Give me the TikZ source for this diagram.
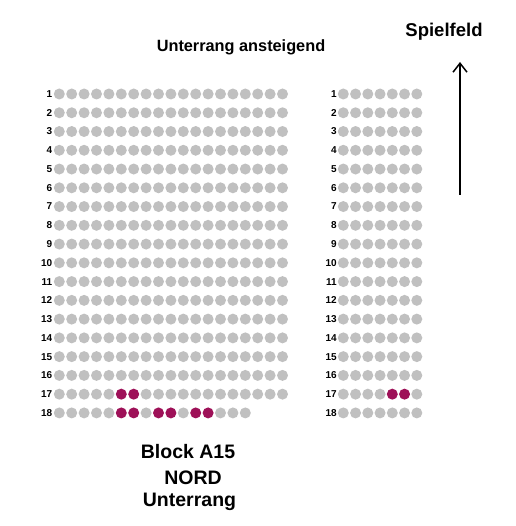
\documentclass[tikz,border=0pt]{standalone}
\usepackage{fontspec}
\setmainfont{Liberation Sans}
\usetikzlibrary{arrows.meta, positioning}
\usepackage{xcolor}
\definecolor{seatgray}{RGB}{192,192,192}
\definecolor{seatred}{RGB}{158,17,88}

\begin{document}
\begin{tikzpicture}[x=1pt, y=-1pt,
  seat/.style={circle, fill=seatgray, inner sep=0pt, minimum size=11pt},
  taken/.style={seat, fill=seatred},
  rownum/.style={anchor=east, inner sep=0pt, font=\fontsize{10}{12}\selectfont\bfseries},
  headline/.style={inner sep=0pt, font=\fontsize{16.3}{18}\selectfont\bfseries},
  blockname/.style={inner sep=0pt, font=\fontsize{19.5}{22}\selectfont\bfseries}]
  \useasboundingbox (0,0) rectangle (515,526);

  % headings
  \node[headline] (title) at (241,47) {Unterrang ansteigend};
  \node[headline, font=\fontsize{18.5}{21}\selectfont\bfseries] (field) at (444,32) {Spielfeld};

  % direction of the pitch
  \coordinate (arrowfoot) at (460,195);
  \coordinate (arrowtip) at (460,62);
  \draw[-{Straight Barb[length=9pt, width=14pt]}, line width=1.5pt] (arrowfoot) -- (arrowtip);

  % left block
  \foreach \r in {1,...,18}
    \node[rownum] (Lnum\r) at (52.5,{94+18.76*(\r-1)}) {\r};
  \foreach \r in {1,...,16}
    \foreach \s in {1,...,19}
      \node[seat] (L\r-\s) at ({59.3+12.4*(\s-1)},{94+18.76*(\r-1)}) {};
  \foreach \s in {1,...,5,8,9,...,19}
    \node[seat] (L17-\s) at ({59.3+12.4*(\s-1)},{94+18.76*16}) {};
  \foreach \s in {6,7}
    \node[taken] (L17-\s) at ({59.3+12.4*(\s-1)},{94+18.76*16}) {};
  \foreach \s in {1,...,5,8,11,14,15,16}
    \node[seat] (L18-\s) at ({59.3+12.4*(\s-1)},{94+18.76*17}) {};
  \foreach \s in {6,7,9,10,12,13}
    \node[taken] (L18-\s) at ({59.3+12.4*(\s-1)},{94+18.76*17}) {};

  % right block
  \foreach \r in {1,...,18}
    \node[rownum] (Rnum\r) at (337,{94+18.76*(\r-1)}) {\r};
  \foreach \r in {1,...,16,18}
    \foreach \s in {1,...,7}
      \node[seat] (R\r-\s) at ({343.3+12.25*(\s-1)},{94+18.76*(\r-1)}) {};
  \foreach \s in {1,...,4,7}
    \node[seat] (R17-\s) at ({343.3+12.25*(\s-1)},{94+18.76*16}) {};
  \foreach \s in {5,6}
    \node[taken] (R17-\s) at ({343.3+12.25*(\s-1)},{94+18.76*16}) {};

  % block caption
  \node[blockname] (block) at (188,452) {Block A15};
  \node[blockname] (nord) at (193,478) {NORD};
  \node[blockname] (rang) at (189.5,502) {Unterrang};
\end{tikzpicture}
\end{document}
